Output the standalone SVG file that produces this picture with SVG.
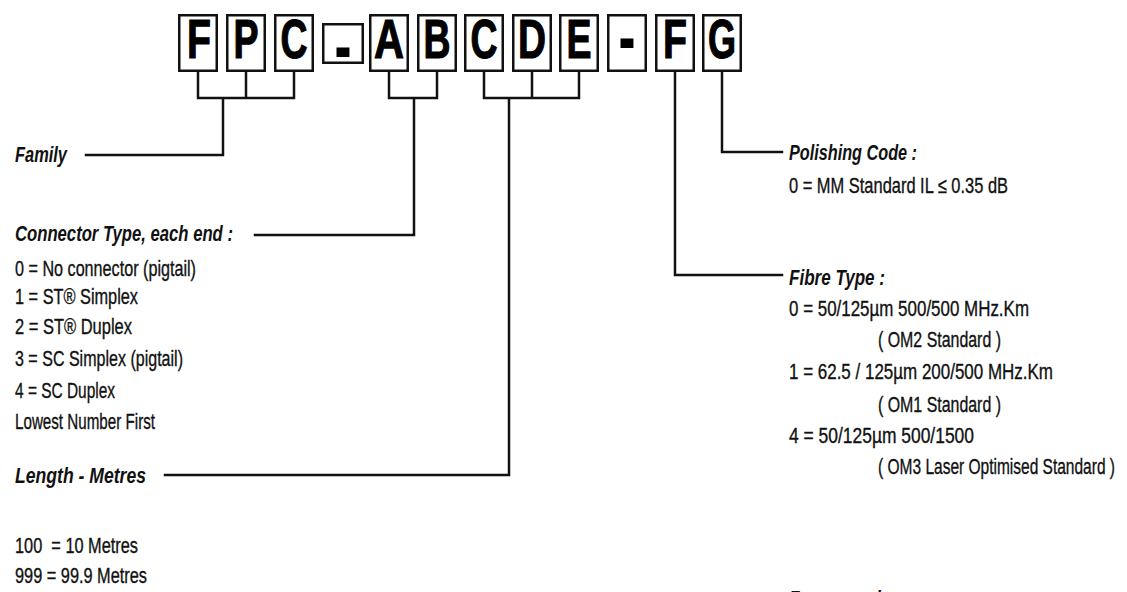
<svg xmlns="http://www.w3.org/2000/svg" width="1127" height="592" viewBox="0 0 1127 592">
<style>
.box{fill:#fff;stroke:#111;stroke-width:2.5}
.big{font-family:"Liberation Sans",Arial,sans-serif;font-weight:bold;font-size:55px;fill:#000;stroke:#000;stroke-width:1.2;text-anchor:middle}
.dash{font-family:"Liberation Sans",Arial,sans-serif;font-weight:bold;font-size:80px;fill:#000;text-anchor:middle}
.con{fill:none;stroke:#111;stroke-width:2.5;stroke-linecap:square}
.t{font-family:"Liberation Sans Narrow","Liberation Sans",Arial,sans-serif;font-size:22px;fill:#111;stroke:#111;stroke-width:0.35;white-space:pre}
.h{font-family:"Liberation Sans Narrow","Liberation Sans",Arial,sans-serif;font-size:22px;font-weight:bold;font-style:italic;fill:#111}
</style>
<rect width="1127" height="592" fill="#fff"/>
<g id="code">
  <g id="box-F1"><rect class="box" x="179.25" y="15.25" width="37.5" height="55.5"/><text class="big" x="199" y="58" textLength="24" lengthAdjust="spacingAndGlyphs">F</text></g>
  <g id="box-P"><rect class="box" x="227.25" y="15.25" width="37.5" height="55.5"/><text class="big" x="246" y="58" textLength="25" lengthAdjust="spacingAndGlyphs">P</text></g>
  <g id="box-C1"><rect class="box" x="275.25" y="15.25" width="37.5" height="55.5"/><text class="big" x="294" y="58" textLength="27" lengthAdjust="spacingAndGlyphs">C</text></g>
  <g id="box-dash1"><rect class="box" x="323.25" y="24.25" width="39.5" height="38.5"/><text class="dash" x="343" y="73" textLength="17" lengthAdjust="spacingAndGlyphs">-</text></g>
  <g id="box-A"><rect class="box" x="370.25" y="15.25" width="37.5" height="55.5"/><text class="big" x="389" y="58" textLength="30" lengthAdjust="spacingAndGlyphs">A</text></g>
  <g id="box-B"><rect class="box" x="418.25" y="15.25" width="37.5" height="55.5"/><text class="big" x="437" y="58" textLength="27" lengthAdjust="spacingAndGlyphs">B</text></g>
  <g id="box-C2"><rect class="box" x="465.25" y="15.25" width="37.5" height="55.5"/><text class="big" x="484" y="58" textLength="27" lengthAdjust="spacingAndGlyphs">C</text></g>
  <g id="box-D"><rect class="box" x="513.25" y="15.25" width="37.5" height="55.5"/><text class="big" x="532" y="58" textLength="28" lengthAdjust="spacingAndGlyphs">D</text></g>
  <g id="box-E"><rect class="box" x="560.25" y="15.25" width="37.5" height="55.5"/><text class="big" x="579" y="58" textLength="25" lengthAdjust="spacingAndGlyphs">E</text></g>
  <g id="box-dash2"><rect class="box" x="608.25" y="15.25" width="37.5" height="55.5"/><text class="dash" x="627" y="64" textLength="17" lengthAdjust="spacingAndGlyphs">-</text></g>
  <g id="box-F2"><rect class="box" x="656.25" y="15.25" width="37.5" height="55.5"/><text class="big" x="675" y="58" textLength="24" lengthAdjust="spacingAndGlyphs">F</text></g>
  <g id="box-G"><rect class="box" x="703.25" y="15.25" width="37.5" height="55.5"/><text class="big" x="722" y="58" textLength="28" lengthAdjust="spacingAndGlyphs">G</text></g>
</g>
<g id="connectors">
  <path class="con" d="M198,72 V98 M246,72 V98 M294,72 V98 M198,98 H294 M223,98 V155 H86"/>
  <path class="con" d="M389,72 V98 M437,72 V98 M389,98 H437 M414,98 V235 H255"/>
  <path class="con" d="M484,72 V98 M532,72 V98 M579,72 V98 M484,98 H579 M509,98 V475 H165"/>
  <path class="con" d="M675,72 V275 H782"/>
  <path class="con" d="M722,72 V152 H782"/>
</g>
<g id="family">
  <text class="h" x="15" y="162" textLength="52" lengthAdjust="spacingAndGlyphs">Family</text>
</g>
<g id="connector-type">
  <text class="h" x="15" y="241" textLength="218" lengthAdjust="spacingAndGlyphs">Connector Type, each end :</text>
  <text class="t" x="15" y="276" textLength="181" lengthAdjust="spacingAndGlyphs">0 = No connector (pigtail)</text>
  <text class="t" x="15" y="304" textLength="123" lengthAdjust="spacingAndGlyphs">1 = ST® Simplex</text>
  <text class="t" x="15" y="334" textLength="117" lengthAdjust="spacingAndGlyphs">2 = ST® Duplex</text>
  <text class="t" x="15" y="366" textLength="168" lengthAdjust="spacingAndGlyphs">3 = SC Simplex (pigtail)</text>
  <text class="t" x="15" y="398" textLength="100" lengthAdjust="spacingAndGlyphs">4 = SC Duplex</text>
  <text class="t" x="15" y="429" textLength="140" lengthAdjust="spacingAndGlyphs">Lowest Number First</text>
</g>
<g id="length">
  <text class="h" x="15" y="483" textLength="131" lengthAdjust="spacingAndGlyphs">Length - Metres</text>
  <text class="t" x="15" y="553" textLength="123" lengthAdjust="spacingAndGlyphs">100  = 10 Metres</text>
  <text class="t" x="15" y="583" textLength="132" lengthAdjust="spacingAndGlyphs">999 = 99.9 Metres</text>
</g>
<g id="polishing">
  <text class="h" x="789" y="160" textLength="128" lengthAdjust="spacingAndGlyphs">Polishing Code :</text>
  <text class="t" x="789" y="193" textLength="219" lengthAdjust="spacingAndGlyphs">0 = MM Standard IL ≤ 0.35 dB</text>
</g>
<g id="fibre">
  <text class="h" x="789" y="285" textLength="96" lengthAdjust="spacingAndGlyphs">Fibre Type :</text>
  <text class="t" x="789" y="316" textLength="240" lengthAdjust="spacingAndGlyphs">0 = 50/125µm 500/500 MHz.Km</text>
  <text class="t" x="878" y="347" textLength="123" lengthAdjust="spacingAndGlyphs">( OM2 Standard )</text>
  <text class="t" x="789" y="379" textLength="264" lengthAdjust="spacingAndGlyphs">1 = 62.5 / 125µm 200/500 MHz.Km</text>
  <text class="t" x="878" y="412" textLength="123" lengthAdjust="spacingAndGlyphs">( OM1 Standard )</text>
  <text class="t" x="789" y="443" textLength="185" lengthAdjust="spacingAndGlyphs">4 = 50/125µm 500/1500</text>
  <text class="t" x="878" y="474" textLength="237" lengthAdjust="spacingAndGlyphs">( OM3 Laser Optimised Standard )</text>
</g>
<g id="example">
  <text class="h" x="789" y="606" textLength="112" lengthAdjust="spacingAndGlyphs">For example :</text>
</g>
</svg>
